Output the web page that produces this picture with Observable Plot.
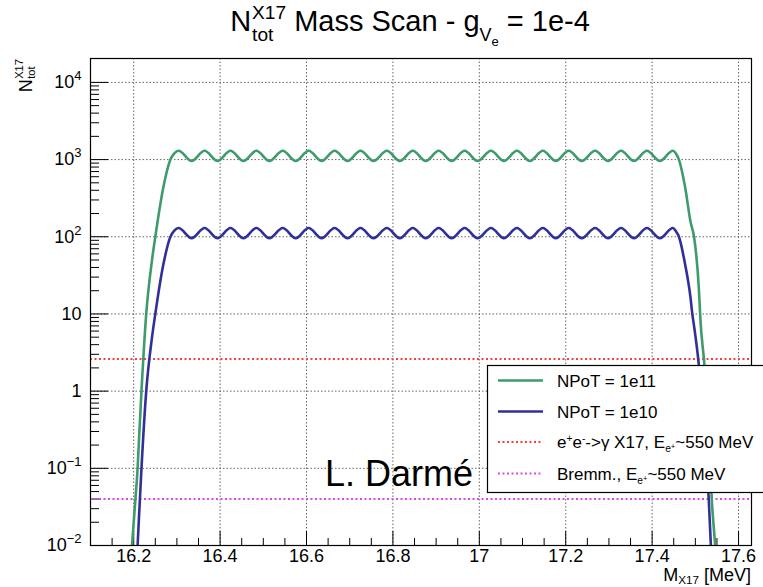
<!DOCTYPE html>
<html><head><meta charset="utf-8">
<script src="https://cdn.jsdelivr.net/npm/d3@7"></script>
<script src="https://cdn.jsdelivr.net/npm/@observablehq/plot@0.6"></script>
<style>
body{margin:0;background:#fff;}
#chart{position:relative;width:763px;height:587px;overflow:hidden;}
svg{font-family:"Liberation Sans",Arial,Helvetica,sans-serif;}
tspan,text{white-space:pre;}
</style></head><body><div id="chart"></div>
<script>
// ---------- data ----------
const xMajor = [16.2, 16.4, 16.6, 16.8, 17.0, 17.2, 17.4, 17.6];
const xTickLabels = ["16.2", "16.4", "16.6", "16.8", "17", "17.2", "17.4", "17.6"];
const yMajor = [0.01, 0.1, 1, 10, 100, 1000, 10000];
const yTickLabels = ["10^{−2}", "10^{−1}", "1", "10", "10^{2}", "10^{3}", "10^{4}"];

// rising edges
const leftMass1e11 = [16.188, 16.196, 16.204, 16.209, 16.212, 16.218, 16.229, 16.242, 16.250, 16.268, 16.285, 16.294];
const leftN1e11    = [0.003, 0.01, 0.04, 0.1, 0.22, 1, 10, 48, 100, 420, 1000, 1200];
const leftMass1e10 = [16.196, 16.204, 16.209, 16.212, 16.218, 16.229, 16.242, 16.250, 16.268, 16.285, 16.294];
const leftN1e10    = [0.001, 0.004, 0.01, 0.022, 0.1, 1, 4.8, 10, 42, 100, 120];

// oscillating plateau (peaks and troughs)
const plateauMass = [16.304, 16.334, 16.364, 16.394, 16.424, 16.454, 16.484, 16.514, 16.545, 16.575,
  16.605, 16.635, 16.665, 16.695, 16.725, 16.755, 16.786, 16.816, 16.846, 16.876,
  16.906, 16.936, 16.966, 16.996, 17.027, 17.057, 17.087, 17.117, 17.147, 17.177,
  17.207, 17.237, 17.268, 17.298, 17.328, 17.358, 17.388, 17.418, 17.448];
const plateauN1e11 = [1300, 960, 1300, 960, 1300, 960, 1300, 960, 1300, 960,
  1300, 960, 1300, 960, 1300, 960, 1300, 960, 1300, 960,
  1300, 960, 1300, 960, 1300, 960, 1300, 960, 1300, 960,
  1300, 960, 1300, 960, 1300, 960, 1300, 960, 1300];
const plateauN1e10 = [130, 96, 130, 96, 130, 96, 130, 96, 130, 96,
  130, 96, 130, 96, 130, 96, 130, 96, 130, 96,
  130, 96, 130, 96, 130, 96, 130, 96, 130, 96,
  130, 96, 130, 96, 130, 96, 130, 96, 130];

// falling edges
const rightMass1e11 = [17.455, 17.462, 17.476, 17.489, 17.497, 17.508, 17.512, 17.521, 17.531, 17.538, 17.546, 17.555];
const rightN1e11    = [1200, 1000, 450, 155, 100, 22, 8, 2.2, 0.3, 0.04, 0.01, 0.002];
const rightMass1e10 = [17.455, 17.462, 17.476, 17.489, 17.493, 17.497, 17.508, 17.521, 17.531, 17.536, 17.545];
const rightN1e10    = [118, 100, 45, 16, 10, 7, 2.2, 0.25, 0.04, 0.01, 0.002];

// horizontal reference levels
const levelEeGamma = 2.6;
const levelBremm = 0.04;

const seriesNames = ["NPoT = 1e11", "NPoT = 1e10"];

// ---------- build tables ----------
const mk = (ms, ns) => ms.map((m, i) => ({m, n: ns[i]}));
const s1e11 = mk(leftMass1e11, leftN1e11).concat(mk(plateauMass, plateauN1e11), mk(rightMass1e11, rightN1e11));
const s1e10 = mk(leftMass1e10, leftN1e10).concat(mk(plateauMass, plateauN1e10), mk(rightMass1e10, rightN1e10));

const xMinor = d3.range(1, 31).map(i => +(16.1 + i * 0.05).toFixed(2)).filter(v => !xMajor.some(M => Math.abs(M - v) < 1e-6));
const yMinor = [];
for (const d of [0.01, 0.1, 1, 10, 100, 1000]) for (let k = 2; k <= 9; k++) yMinor.push(+(d * k).toPrecision(3));

// ---------- layout ----------
const W = 763, H = 587, ML = 90, MR = 12, MT = 58, MB = 42;
const PW = W - ML - MR, PH = H - MT - MB;
const cGreen = "#3d9b6c", cBlue = "#303098", cRed = "#ff3b3b", cMag = "#e046f0";
const gridStyle = {stroke: "#555", strokeWidth: 0.9, strokeDasharray: "1.5,2"};

const plot = Plot.plot({
  width: W, height: H,
  marginLeft: ML, marginRight: MR, marginTop: MT, marginBottom: MB,
  style: {background: "white", fontFamily: "'Liberation Sans', Arial, sans-serif", overflow: "visible"},
  x: {domain: [16.1, 17.63], axis: null},
  y: {type: "log", domain: [0.01, 2.04e4], axis: null},
  marks: [
    Plot.ruleX(xMajor, {x: d => d, ...gridStyle}),
    Plot.ruleY(yMajor.slice(1), {y: d => d, ...gridStyle}),
    Plot.tickX(xMajor, {x: d => d, insetTop: PH - 14, stroke: "black", strokeWidth: 1}),
    Plot.tickX(xMinor, {x: d => d, insetTop: PH - 7, stroke: "black", strokeWidth: 1}),
    Plot.tickY(yMajor, {y: d => d, insetRight: PW - 18, stroke: "black", strokeWidth: 1}),
    Plot.tickY(yMinor, {y: d => d, insetRight: PW - 9, stroke: "black", strokeWidth: 1}),
    Plot.text(xMajor, {x: d => d, frameAnchor: "bottom", lineAnchor: "top", dy: 4,
      text: (d, i) => xTickLabels[i], fontSize: 18, fill: "black"}),
    Plot.text(yMajor, {y: d => d, frameAnchor: "left", textAnchor: "end", dx: -9,
      text: (d, i) => yTickLabels[i], fontSize: 18, fill: "black", className: "ylab"}),
    Plot.ruleY([levelEeGamma], {y: d => d, stroke: cRed, strokeWidth: 2, strokeDasharray: "2,2.5"}),
    Plot.ruleY([levelBremm], {y: d => d, stroke: cMag, strokeWidth: 2, strokeDasharray: "2,2.5"}),
    Plot.line(s1e11, {x: "m", y: "n", stroke: cGreen, strokeWidth: 2.6, curve: "monotone-x", clip: true}),
    Plot.line(s1e10, {x: "m", y: "n", stroke: cBlue, strokeWidth: 2.6, curve: "monotone-x", clip: true}),
    Plot.frame({stroke: "black", strokeWidth: 1.2})
  ]
});
document.getElementById("chart").appendChild(plot);

const svg = d3.select(plot);

// superscripts on y tick labels
svg.selectAll("g.ylab text").each(function () {
  const t = d3.select(this);
  const s = t.text();
  const m = s.match(/^(.*)\^\{(.*)\}$/);
  if (m) {
    t.text(m[1]);
    t.append("tspan").attr("font-size", 13).attr("dy", -8).text(m[2]);
  }
});

// rich text helper: segs = [{t, k, sh, under?}]
function rich(parent, {x, y, anchor = "start", size, segs, fill = "black"}) {
  const t = parent.append("text").attr("x", x).attr("y", y).attr("text-anchor", anchor)
    .attr("font-size", size).attr("fill", fill);
  let cur = 0, pendingDx = 0;
  for (const s of segs) {
    const sp = t.append("tspan").attr("font-size", size * s.k).attr("dy", s.sh - cur).text(s.t);
    if (pendingDx) sp.attr("dx", pendingDx);
    if (s.dx) sp.attr("dx", (pendingDx || 0) + s.dx);
    pendingDx = 0;
    cur = s.sh;
    if (s.under) {
      const w1 = sp.node().getComputedTextLength();
      const u = s.under;
      const sp2 = t.append("tspan").attr("font-size", size * u.k).attr("dy", u.sh - cur).attr("dx", -w1).text(u.t);
      cur = u.sh;
      const w2 = sp2.node().getComputedTextLength();
      pendingDx = Math.max(0, w1 - w2);
    }
  }
  return t;
}

// title
rich(svg, {x: 410, y: 31, anchor: "middle", size: 29, segs: [
  {t: "N", k: 1, sh: 0},
  {t: "X17", k: 0.66, sh: -12, dx: 1, under: {t: "tot", k: 0.66, sh: 10}},
  {t: " Mass Scan - g", k: 1, sh: 0},
  {t: "V", k: 0.62, sh: 10},
  {t: "e", k: 0.45, sh: 15},
  {t: " = 1e-4", k: 1, sh: 0}
]});

// y axis title (rotated)
const gy = svg.append("g").attr("transform", "translate(32,59) rotate(-90)");
rich(gy, {x: 0, y: 0, anchor: "end", size: 18, segs: [
  {t: "N", k: 1, sh: 0},
  {t: "X17", k: 0.62, sh: -9, dx: 0.5, under: {t: "tot", k: 0.62, sh: 3}}
]});

// x axis title
rich(svg, {x: 751, y: 581, anchor: "end", size: 18, segs: [
  {t: "M", k: 1, sh: 0},
  {t: "X17", k: 0.65, sh: 3},
  {t: " [MeV]", k: 1, sh: 0}
]});

// watermark text
svg.append("text").attr("x", 325).attr("y", 486).attr("text-anchor", "start")
  .attr("font-size", 36).attr("fill", "black").text("L. Darmé");

// legend
const lg = svg.append("g");
lg.append("rect").attr("x", 487.5).attr("y", 365.5).attr("width", 280).attr("height", 127)
  .attr("fill", "white").attr("stroke", "black").attr("stroke-width", 1.2);
const rows = [
  {y: 380.5, color: cGreen, dash: null, segs: [{t: seriesNames[0], k: 1, sh: 0}]},
  {y: 411.5, color: cBlue, dash: null, segs: [{t: seriesNames[1], k: 1, sh: 0}]},
  {y: 442, color: cRed, dash: "2,2.5", segs: [
    {t: "e", k: 1, sh: 0}, {t: "+", k: 0.6, sh: -6}, {t: "e", k: 1, sh: 0}, {t: "-", k: 0.6, sh: -6},
    {t: "->γ X17, E", k: 1, sh: 0}, {t: "e", k: 0.6, sh: 4}, {t: "+", k: 0.45, sh: 1}, {t: "~550 MeV", k: 1, sh: 0}]},
  {y: 473.5, color: cMag, dash: "2,2.5", segs: [
    {t: "Bremm., E", k: 1, sh: 0}, {t: "e", k: 0.6, sh: 4}, {t: "+", k: 0.45, sh: 1}, {t: "~550 MeV", k: 1, sh: 0}]}
];
for (const r of rows) {
  const ln = lg.append("line").attr("x1", 498).attr("x2", 543).attr("y1", r.y).attr("y2", r.y)
    .attr("stroke", r.color).attr("stroke-width", r.dash ? 2 : 2.6);
  if (r.dash) ln.attr("stroke-dasharray", r.dash);
  rich(lg, {x: 557, y: r.y + 6, size: 17, segs: r.segs});
}
</script>
</body></html>
